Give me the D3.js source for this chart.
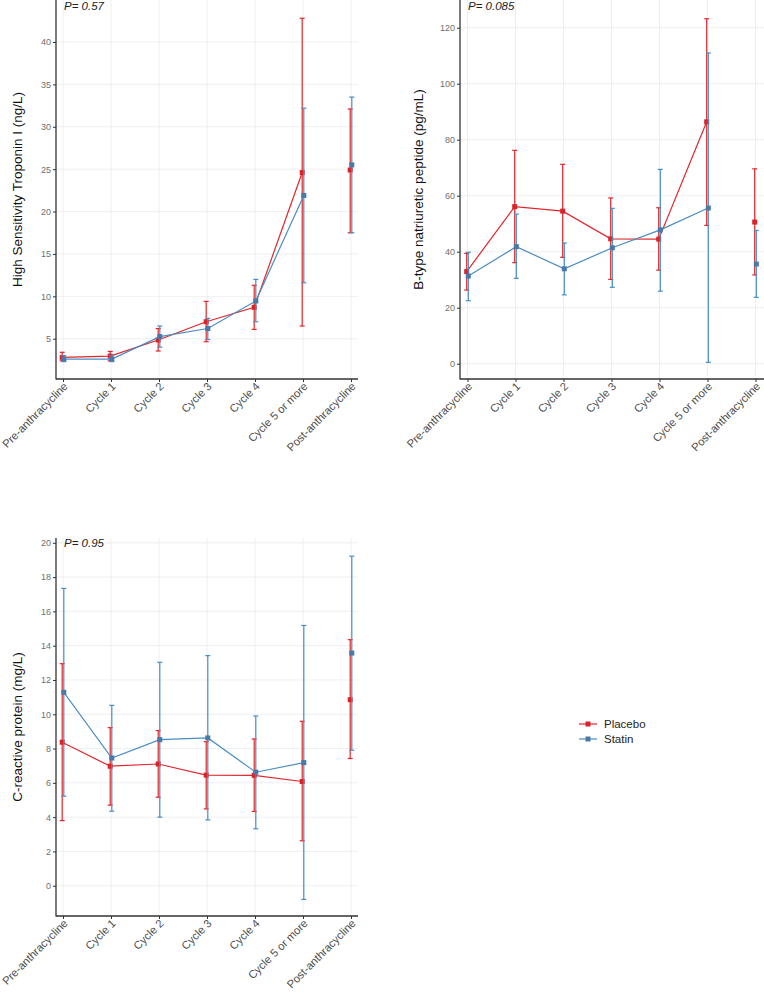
<!DOCTYPE html>
<html>
<head>
<meta charset="utf-8">
<script src="https://cdn.jsdelivr.net/npm/d3@7/dist/d3.min.js"></script>
<style>
  body { margin: 0; background: #fff; }
  svg { font-family: "Liberation Sans", Arial, sans-serif; display: block; }
</style>
</head>
<body>
<div id="viz"></div>
<script>
const categories = ["Pre-anthracycline", "Cycle 1", "Cycle 2", "Cycle 3", "Cycle 4", "Cycle 5 or more", "Post-anthracycline"];
const groups = ["Placebo", "Statin"];

// troponin (ng/L)
const tropPlacebo     = [2.8, 2.95, 4.85, 7.0, 8.7, 24.6, 24.9];
const tropPlaceboLow  = [2.4, 2.4, 3.55, 4.65, 6.1, 6.5, 17.5];
const tropPlaceboHigh = [3.4, 3.5, 6.2, 9.4, 11.3, 42.8, 32.1];
const tropStatin      = [2.6, 2.6, 5.25, 6.2, 9.45, 21.9, 25.5];
const tropStatinLow   = [2.3, 2.3, 4.0, 4.9, 7.0, 11.6, 17.5];
const tropStatinHigh  = [3.0, 3.0, 6.5, 7.4, 12.0, 32.2, 33.5];
const tropTicks = [5, 10, 15, 20, 25, 30, 35, 40];

// BNP (pg/mL)
const bnpPlacebo     = [32.9, 56.1, 54.5, 44.6, 44.5, 86.4, 50.6];
const bnpPlaceboLow  = [26.3, 36.1, 38.0, 30.1, 33.4, 49.4, 31.7];
const bnpPlaceboHigh = [39.4, 76.2, 71.2, 59.2, 55.7, 123.2, 69.6];
const bnpStatin      = [31.3, 41.8, 33.9, 41.4, 47.8, 55.6, 35.6];
const bnpStatinLow   = [22.5, 30.5, 24.6, 27.3, 25.9, 0.5, 23.7];
const bnpStatinHigh  = [39.8, 53.4, 43.1, 55.5, 69.4, 111.0, 47.6];
const bnpTicks = [0, 20, 40, 60, 80, 100, 120];

// CRP (mg/L)
const crpPlacebo     = [8.37, 6.97, 7.1, 6.45, 6.44, 6.08, 10.85];
const crpPlaceboLow  = [3.8, 4.7, 5.16, 4.48, 4.33, 2.62, 7.42];
const crpPlaceboHigh = [12.95, 9.22, 9.05, 8.4, 8.56, 9.59, 14.35];
const crpStatin      = [11.28, 7.45, 8.52, 8.62, 6.62, 7.18, 13.57];
const crpStatinLow   = [5.22, 4.35, 4.0, 3.84, 3.32, -0.8, 7.9];
const crpStatinHigh  = [17.34, 10.52, 13.03, 13.42, 9.9, 15.18, 19.22];
const crpTicks = [0, 2, 4, 6, 8, 10, 12, 14, 16, 18, 20];

const colors = { Placebo: "#e0262b", Statin: "#4a8dc2" };
const markFill = { Placebo: "#d8232a", Statin: "#4a78a8" };

const W = 764, H = 992;
const svg = d3.select("#viz").append("svg")
  .attr("width", W).attr("height", H)
  .attr("viewBox", [0, 0, W, H]);

const drawPanel = (cfg) => {
  const g = svg.append("g");
  const x = d3.scalePoint().domain(categories).range([cfg.x0, cfg.x1]);
  const y = d3.scaleLinear().domain(cfg.domain).range([cfg.bottom, cfg.top]);

  // grid
  g.selectAll(".hgrid").data(cfg.ticks).join("line")
    .attr("x1", cfg.left).attr("x2", cfg.right)
    .attr("y1", d => y(d)).attr("y2", d => y(d))
    .attr("stroke", "#ebebeb").attr("stroke-width", 0.8);
  g.selectAll(".vgrid").data(categories).join("line")
    .attr("x1", d => x(d)).attr("x2", d => x(d))
    .attr("y1", cfg.top).attr("y2", cfg.bottom)
    .attr("stroke", "#ebebeb").attr("stroke-width", 0.8);

  // axes
  const yAxis = g.append("g").attr("transform", `translate(${cfg.left},0)`)
    .call(d3.axisLeft(y).tickValues(cfg.ticks).tickSize(3).tickPadding(2));
  yAxis.select(".domain").remove();
  yAxis.selectAll("text").attr("fill", "#6e6e6e").style("font-size", "9px");
  yAxis.selectAll("line").attr("stroke", "#333");

  const xAxis = g.append("g").attr("transform", `translate(0,${cfg.bottom})`)
    .call(d3.axisBottom(x).tickSize(3).tickSizeOuter(0));
  xAxis.select(".domain").remove();
  xAxis.selectAll("line").attr("stroke", "#333");
  xAxis.selectAll("text")
    .attr("fill", "#4d4d4d").style("font-size", "11.2px")
    .attr("text-anchor", "end")
    .attr("dy", null).attr("y", 0)
    .attr("transform", "translate(5,8) rotate(-45)");

  g.append("line").attr("x1", cfg.left).attr("x2", cfg.left)
    .attr("y1", cfg.top).attr("y2", cfg.bottom + 0.5)
    .attr("stroke", "#333").attr("stroke-width", 1.3);
  g.append("line").attr("x1", cfg.left).attr("x2", cfg.right)
    .attr("y1", cfg.bottom).attr("y2", cfg.bottom)
    .attr("stroke", "#333").attr("stroke-width", 1.3);

  // y title
  g.append("text")
    .attr("transform", `translate(${cfg.titleX},${(cfg.top + cfg.bottom) / 2}) rotate(-90)`)
    .attr("text-anchor", "middle")
    .style("font-size", "13.5px").attr("fill", "#111")
    .text(cfg.title);

  // p value
  g.append("text").attr("x", cfg.left + 8).attr("y", cfg.pY)
    .style("font-size", "11.5px").style("font-style", "italic").attr("fill", "#222")
    .text(cfg.p);

  const series = [
    { name: "Placebo", mean: cfg.placebo, lo: cfg.placeboLow, hi: cfg.placeboHigh, dx: -0.8 },
    { name: "Statin", mean: cfg.statin, lo: cfg.statinLow, hi: cfg.statinHigh, dx: 0.8 }
  ];

  series.forEach(s => {
    const pts = categories.map((c, i) => ({ c, m: s.mean[i], lo: s.lo[i], hi: s.hi[i] }));
    const col = colors[s.name];
    const line = d3.line().x(d => x(d.c) + s.dx).y(d => y(d.m));
    g.append("path").datum(pts.slice(0, 6))
      .attr("d", line).attr("fill", "none")
      .attr("stroke", col).attr("stroke-width", 1.2);

    const eb = g.append("g").selectAll("g").data(pts).join("g");
    eb.append("line")
      .attr("x1", d => x(d.c) + s.dx).attr("x2", d => x(d.c) + s.dx)
      .attr("y1", d => y(d.lo)).attr("y2", d => y(d.hi))
      .attr("stroke", col).attr("stroke-width", 1.2);
    eb.append("line")
      .attr("x1", d => x(d.c) + s.dx - 2.5).attr("x2", d => x(d.c) + s.dx + 2.5)
      .attr("y1", d => y(d.lo)).attr("y2", d => y(d.lo))
      .attr("stroke", col).attr("stroke-width", 1.2);
    eb.append("line")
      .attr("x1", d => x(d.c) + s.dx - 2.5).attr("x2", d => x(d.c) + s.dx + 2.5)
      .attr("y1", d => y(d.hi)).attr("y2", d => y(d.hi))
      .attr("stroke", col).attr("stroke-width", 1.2);
    eb.append("rect")
      .attr("x", d => x(d.c) + s.dx - 2.5).attr("y", d => y(d.m) - 2.5)
      .attr("width", 5).attr("height", 5)
      .attr("fill", markFill[s.name]);
  });
};

drawPanel({
  left: 56, right: 358, top: 0, bottom: 379, x0: 63, x1: 351,
  domain: [0.25, 44.95], ticks: tropTicks, titleX: 22, pY: 10,
  title: "High Sensitivity Troponin I (ng/L)", p: "P= 0.57",
  placebo: tropPlacebo, placeboLow: tropPlaceboLow, placeboHigh: tropPlaceboHigh,
  statin: tropStatin, statinLow: tropStatinLow, statinHigh: tropStatinHigh
});

drawPanel({
  left: 460, right: 764, top: 0, bottom: 379, x0: 467.5, x1: 755.5,
  domain: [-5.46, 129.9], ticks: bnpTicks, titleX: 423, pY: 10,
  title: "B-type natriuretic peptide (pg/mL)", p: "P= 0.085",
  placebo: bnpPlacebo, placeboLow: bnpPlaceboLow, placeboHigh: bnpPlaceboHigh,
  statin: bnpStatin, statinLow: bnpStatinLow, statinHigh: bnpStatinHigh
});

drawPanel({
  left: 56, right: 358, top: 538, bottom: 916, x0: 63, x1: 351,
  domain: [-1.765, 20.28], ticks: crpTicks, titleX: 22, pY: 547,
  title: "C-reactive protein (mg/L)", p: "P= 0.95",
  placebo: crpPlacebo, placeboLow: crpPlaceboLow, placeboHigh: crpPlaceboHigh,
  statin: crpStatin, statinLow: crpStatinLow, statinHigh: crpStatinHigh
});

// legend
const legend = svg.append("g").selectAll("g").data(groups).join("g")
  .attr("transform", (d, i) => `translate(579,${724 + i * 15})`);
legend.append("line").attr("x1", 0).attr("x2", 18)
  .attr("stroke", d => colors[d]).attr("stroke-width", 1.2);
legend.append("rect").attr("x", 6.5).attr("y", -2.5).attr("width", 5).attr("height", 5)
  .attr("fill", d => markFill[d]);
legend.append("text").attr("x", 25).attr("y", 4)
  .style("font-size", "11.5px").attr("fill", "#222").text(d => d);
</script>
</body>
</html>
